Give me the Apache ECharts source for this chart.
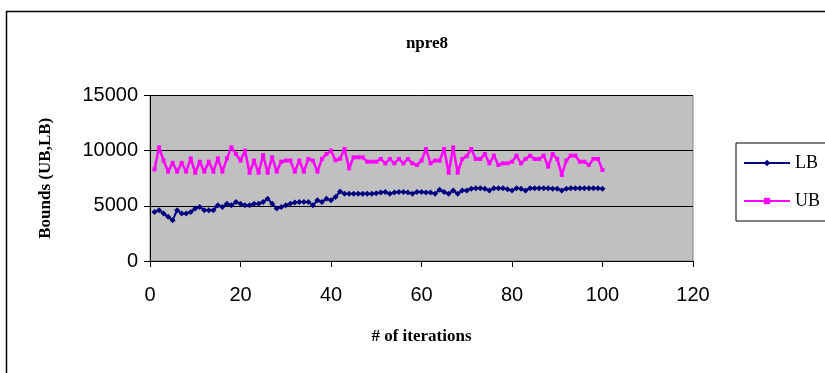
<!DOCTYPE html>
<html>
<head>
<meta charset="utf-8">
<script src="https://cdn.jsdelivr.net/npm/echarts@6/dist/echarts.min.js"></script>
<style>
  html, body { margin: 0; padding: 0; background: #fff; }
  #chart { width: 825px; height: 373px; }
</style>
</head>
<body>
<div id="chart"></div>
<script>
// Lower bound (LB) per iteration
const lbValues = [
  4450, 4600, 4300, 4000, 3700, 4600, 4300, 4300, 4450, 4750,
  4900, 4600, 4600, 4600, 5050, 4900, 5200, 5050, 5350, 5200,
  5050, 5050, 5200, 5200, 5350, 5650, 5200, 4750, 4900, 5050,
  5200, 5300, 5350, 5350, 5350, 5050, 5500, 5350, 5650, 5500,
  5800, 6300, 6100, 6100, 6100, 6100, 6100, 6100, 6100, 6150,
  6200, 6250, 6100, 6200, 6250, 6250, 6200, 6100, 6250, 6250,
  6200, 6200, 6100, 6450, 6250, 6100, 6400, 6100, 6400, 6400,
  6550, 6600, 6600, 6550, 6400, 6600, 6600, 6600, 6500, 6400,
  6600, 6550, 6400, 6600, 6600, 6600, 6600, 6600, 6550, 6550,
  6400, 6550, 6600, 6600, 6600, 6600, 6600, 6600, 6600, 6550
];
// Upper bound (UB) per iteration
const ubValues = [
  8300, 10300, 9100, 8100, 8900, 8100, 8900, 8100, 9300, 8000,
  9000, 8100, 9000, 8100, 9300, 8100, 9300, 10300, 9700, 9100,
  10000, 8000, 9100, 8000, 9600, 8000, 9400, 8100, 9000, 9100,
  9100, 8100, 9100, 8100, 9250, 9100, 8100, 9250, 9700, 10000,
  9130, 9270, 10150, 8400, 9400, 9400, 9400, 9000, 9000, 9000,
  9250, 8850, 9250, 8850, 9250, 8850, 9250, 8850, 8700, 9100,
  10150, 8850, 9100, 9100, 10150, 8000, 10300, 8000, 9250, 9500,
  10150, 9250, 9250, 9700, 8850, 9550, 8700, 8850, 8850, 9000,
  9550, 8850, 9250, 9550, 9250, 9250, 9550, 8550, 9700, 9250,
  7800, 9100, 9550, 9550, 9000, 9000, 8700, 9250, 9250, 8250
];
// Iteration numbers 1..100
const iterations = lbValues.map((_, i) => i + 1);

const xTicks = { min: 0, max: 120, interval: 20 };
const yTicks = { min: 0, max: 15000, interval: 5000 };

const serif = '"Liberation Serif", "Times New Roman", serif';
const sans = '"Liberation Sans", Arial, sans-serif';

const chart = echarts.init(document.getElementById('chart'), null, { renderer: 'canvas' });
chart.setOption({
  animation: false,
  backgroundColor: '#ffffff',
  title: {
    text: 'npre8',
    left: 422,
    top: 30,
    textAlign: 'center',
    textStyle: { fontFamily: serif, fontWeight: 'bold', fontSize: 17, color: '#000' }
  },
  graphic: [{
    type: 'rect',
    shape: { x: 6.5, y: 11.5, width: 900, height: 500 },
    style: { fill: 'none', stroke: '#000', lineWidth: 1.5 },
    silent: true,
    z: -1
  }],
  grid: {
    left: 150, right: 132, top: 95.5, bottom: 112,
    show: true,
    backgroundColor: '#c0c0c0',
    borderColor: '#808080',
    borderWidth: 1
  },
  legend: {
    orient: 'vertical',
    left: 736,
    top: 143,
    padding: [11, 60, 11, 7],
    itemWidth: 46,
    itemHeight: 8,
    itemGap: 20,
    borderColor: '#000',
    borderWidth: 1,
    backgroundColor: '#fff',
    textStyle: { fontFamily: serif, fontSize: 18, color: '#000' },
    data: ['LB', 'UB']
  },
  xAxis: {
    type: 'value',
    min: xTicks.min, max: xTicks.max, interval: xTicks.interval,
    name: '# of iterations',
    nameLocation: 'middle',
    nameGap: 67,
    nameTextStyle: { fontFamily: serif, fontWeight: 'bold', fontSize: 17, color: '#000' },
    axisLine: { show: true, onZero: false, lineStyle: { color: '#000', width: 1 } },
    axisTick: { show: true, length: 6, lineStyle: { color: '#000' } },
    axisLabel: { fontFamily: sans, fontSize: 20, color: '#000', margin: 24 },
    splitLine: { show: false }
  },
  yAxis: {
    type: 'value',
    min: yTicks.min, max: yTicks.max, interval: yTicks.interval,
    name: 'Bounds (UB,LB)',
    nameLocation: 'middle',
    nameGap: 96,
    nameTextStyle: { fontFamily: serif, fontWeight: 'bold', fontSize: 17, color: '#000' },
    axisLine: { show: true, lineStyle: { color: '#000', width: 1 } },
    axisTick: { show: true, length: 6, lineStyle: { color: '#000' } },
    axisLabel: {
      fontFamily: sans, fontSize: 20, color: '#000', margin: 12,
      formatter: (v) => String(v)
    },
    splitLine: { show: true, lineStyle: { color: '#000', width: 1 } }
  },
  series: [
    {
      name: 'LB',
      type: 'line',
      data: iterations.map((x, i) => [x, lbValues[i]]),
      symbol: 'diamond',
      symbolSize: 6,
      showAllSymbol: true,
      color: '#000080',
      lineStyle: { color: '#000080', width: 2 },
      itemStyle: { color: '#000080' }
    },
    {
      name: 'UB',
      type: 'line',
      data: iterations.map((x, i) => [x, ubValues[i]]),
      symbol: 'rect',
      symbolSize: 4,
      showAllSymbol: true,
      color: '#ff00ff',
      lineStyle: { color: '#ff00ff', width: 2.5 },
      itemStyle: { color: '#ff00ff' }
    }
  ]
});
</script>
</body>
</html>
